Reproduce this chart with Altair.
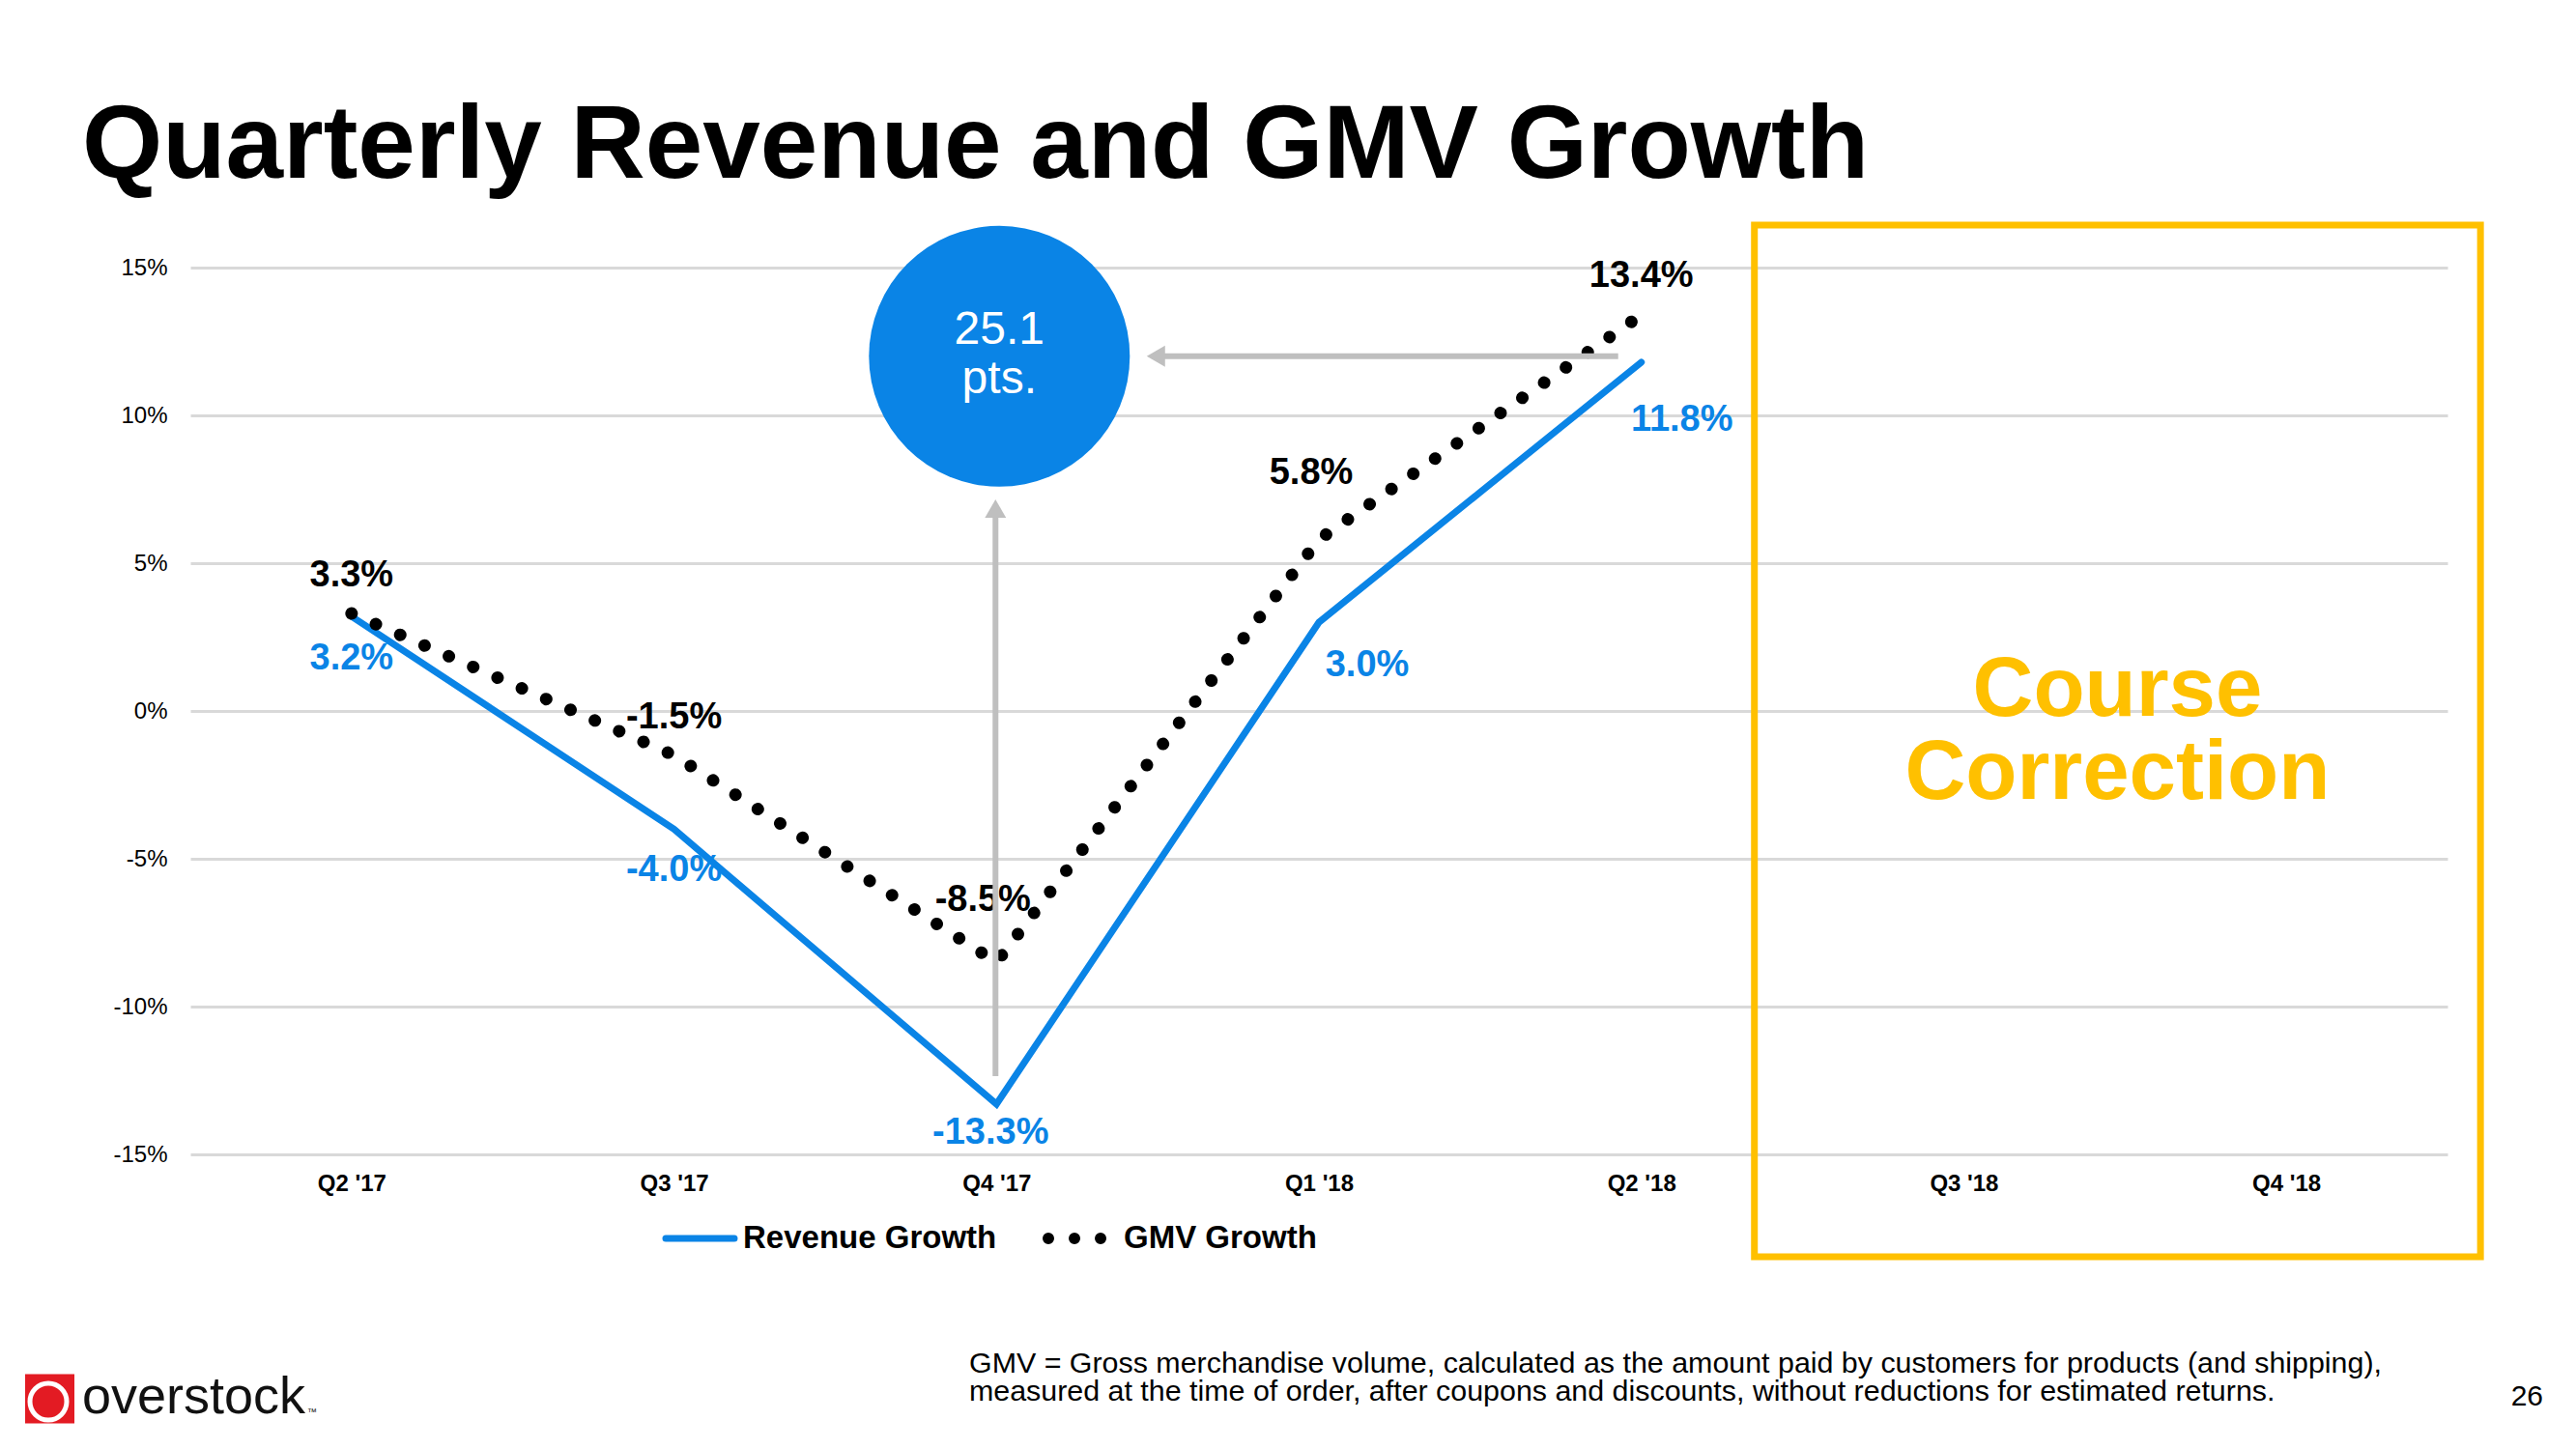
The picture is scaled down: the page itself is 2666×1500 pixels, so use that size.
import altair as alt
import pandas as pd

# ---------------- data ----------------
quarters = ["Q2 '17", "Q3 '17", "Q4 '17", "Q1 '18", "Q2 '18", "Q3 '18", "Q4 '18"]
reported_quarters = quarters[:5]
revenue_growth = [3.2, -4.0, -13.3, 3.0, 11.8]
gmv_growth = [3.3, -1.5, -8.5, 5.8, 13.4]
y_ticks = [-15, -10, -5, 0, 5, 10, 15]

title_text = "Quarterly Revenue and GMV Growth"
series_names = ["Revenue Growth", "GMV Growth"]
box_text = ["Course", "Correction"]
footnote_lines = [
    "GMV = Gross merchandise volume, calculated as the amount paid by customers for products (and shipping),",
    "measured at the time of order, after coupons and discounts, without reductions for estimated returns.",
]
page_number = "26"
logo_text = "overstock"

gap_pts = round(revenue_growth[4] - revenue_growth[2], 1)  # 25.1 pts swing

rev_df = pd.DataFrame({"quarter": reported_quarters, "value": revenue_growth})
gmv_df = pd.DataFrame({"quarter": reported_quarters, "value": gmv_growth})
one = pd.DataFrame({"k": [0]})

# ---------------- styles ----------------
FONT = "Liberation Sans"
BLUE = "#0A84E6"
BLACK = "#000000"
GRAY = "#BFBFBF"
GOLD = "#FFC000"
W, H = 2336, 918

xscale = alt.Scale(type="point", domain=quarters, padding=0.5)
yscale = alt.Scale(domain=[-15, 15], nice=False, zero=False)

x_axis = alt.Axis(domain=False, ticks=False, labelPadding=18, labelFontSize=24,
                  labelFontWeight="bold", labelColor=BLACK, labelAngle=0,
                  grid=False, title=None, labelFont=FONT)
y_axis = alt.Axis(values=y_ticks, labelExpr="datum.value + '%'", grid=True,
                  gridColor="#D9D9D9", gridWidth=3, domain=False, ticks=False,
                  labelPadding=24, labelFontSize=24, labelColor=BLACK,
                  title=None, labelFont=FONT)

X = alt.X("quarter:N", scale=xscale, axis=x_axis, title=None)
Y = alt.Y("value:Q", scale=yscale, axis=y_axis, title=None)


def xd(q):
    return alt.XDatum(q, type="nominal", scale=xscale, axis=x_axis, title=None)


def yd(v):
    return alt.YDatum(v, type="quantitative", scale=yscale, axis=y_axis, title=None)


layers = []

# yellow "course correction" frame
layers.append(
    alt.Chart(one).mark_rect(filled=False, color=GOLD, strokeWidth=7,
                             xOffset=117, x2Offset=201)
    .encode(x=xd("Q2 '18"), x2=alt.X2Datum("Q4 '18"),
            y=alt.value(-44), y2=alt.value(1024))
)

# revenue line
layers.append(
    alt.Chart(rev_df).mark_line(color=BLUE, strokeWidth=7, strokeCap="round")
    .encode(x=X, y=Y)
)
# GMV dotted line
layers.append(
    alt.Chart(gmv_df).mark_line(color=BLACK, strokeWidth=13, strokeCap="round",
                                strokeDash=[0.01, 27.5])
    .encode(x=X, y=Y)
)

# data labels (offsets in px per quarter)
gmv_offsets = {"Q2 '17": (0, -39), "Q3 '17": (0, -39), "Q4 '17": (-14, -64),
               "Q1 '18": (-8, -69), "Q2 '18": (0, -40)}
rev_offsets = {"Q2 '17": (0, 44), "Q3 '17": (0, 43), "Q4 '17": (-6, 30),
               "Q1 '18": (50, 45), "Q2 '18": (42, 60)}

for df, offs, col in [(gmv_df, gmv_offsets, BLACK), (rev_df, rev_offsets, BLUE)]:
    for q, (dx, dy) in offs.items():
        layers.append(
            alt.Chart(df).transform_filter(alt.datum.quarter == q)
            .transform_calculate(
                label="replace(format(datum.value, '.1f'), '\u2212', '-') + '%'")
            .mark_text(dx=dx, dy=dy, fontSize=38, fontWeight="bold", color=col,
                       font=FONT, align="center", baseline="middle")
            .encode(x=X, y=Y, text="label:N")
        )

# arrows
layers.append(
    alt.Chart(one).mark_rule(color=GRAY, strokeWidth=6, xOffset=165, x2Offset=-24)
    .encode(x=xd("Q4 '17"), x2=alt.X2Datum("Q2 '18"), y=yd(12.0))
)
layers.append(
    alt.Chart(one).mark_point(shape="triangle-left", filled=True, color=GRAY,
                              opacity=1, size=480, xOffset=165)
    .encode(x=xd("Q4 '17"), y=yd(12.0))
)
layers.append(
    alt.Chart(one).mark_rule(color=GRAY, strokeWidth=6, xOffset=-1)
    .encode(x=xd("Q4 '17"), y=yd(-12.35), y2=alt.Y2Datum(6.85))
)
layers.append(
    alt.Chart(one).mark_point(shape="triangle-up", filled=True, color=GRAY,
                              opacity=1, size=480, xOffset=-1)
    .encode(x=xd("Q4 '17"), y=yd(6.85))
)

# blue bubble (circle size = diameter^2)
layers.append(
    alt.Chart(one).mark_circle(size=72900, color=BLUE, opacity=1, xOffset=3)
    .encode(x=xd("Q4 '17"), y=yd(12.0))
)
layers.append(
    alt.Chart(one).mark_text(text=[f"{gap_pts:.1f}", "pts."], fontSize=48,
                             color="white", font=FONT, lineHeight=51,
                             align="center", baseline="middle", xOffset=3, dy=-27)
    .encode(x=xd("Q4 '17"), y=yd(12.0))
)

# course correction label
layers.append(
    alt.Chart(one).mark_text(text=box_text, fontSize=87, fontWeight="bold",
                             color=GOLD, font=FONT, lineHeight=86,
                             align="center", baseline="middle", xOffset=159)
    .encode(x=xd("Q3 '18"), y=alt.value(438))
)

# legend (manual)
layers.append(
    alt.Chart(one).mark_rule(color=BLUE, strokeWidth=7, strokeCap="round")
    .encode(x=alt.value(492), x2=alt.value(563), y=alt.value(1005))
)
layers.append(
    alt.Chart(one).mark_text(text=series_names[0], fontSize=33, fontWeight="bold",
                             color=BLACK, font=FONT, align="left", baseline="middle")
    .encode(x=alt.value(572), y=alt.value(1005))
)
layers.append(
    alt.Chart(one).mark_rule(color=BLACK, strokeWidth=12, strokeCap="round",
                             strokeDash=[0.01, 27])
    .encode(x=alt.value(888), x2=alt.value(942.5), y=alt.value(1005))
)
layers.append(
    alt.Chart(one).mark_text(text=series_names[1], fontSize=33, fontWeight="bold",
                             color=BLACK, font=FONT, align="left", baseline="middle")
    .encode(x=alt.value(966), y=alt.value(1005))
)

# title
layers.append(
    alt.Chart(one).mark_text(text=title_text, fontSize=107, fontWeight="bold",
                             color=BLACK, font=FONT, align="left", baseline="alphabetic")
    .encode(x=alt.value(-112), y=alt.value(-93))
)

# footnote & page number
layers.append(
    alt.Chart(one).mark_text(text=footnote_lines, fontSize=30.4, color=BLACK, font=FONT,
                             align="left", baseline="alphabetic", lineHeight=29)
    .encode(x=alt.value(806), y=alt.value(1144))
)
layers.append(
    alt.Chart(one).mark_text(text=page_number, fontSize=30, color=BLACK, font=FONT,
                             align="right", baseline="alphabetic")
    .encode(x=alt.value(2435), y=alt.value(1178))
)

# logo
layers.append(
    alt.Chart(one).mark_square(size=2601, color="#E31B23", opacity=1)
    .encode(x=alt.value(-145.5), y=alt.value(1171))
)
layers.append(
    alt.Chart(one).mark_point(shape="circle", filled=False, color="white",
                              strokeWidth=5, size=1444, opacity=1)
    .encode(x=alt.value(-147), y=alt.value(1174))
)
layers.append(
    alt.Chart(one).mark_text(text=logo_text, fontSize=54, color="#111111", font=FONT,
                             align="left", baseline="alphabetic")
    .encode(x=alt.value(-112), y=alt.value(1186))
)
layers.append(
    alt.Chart(one).mark_text(text="™", fontSize=10, color="#111111", font=FONT,
                             align="left", baseline="alphabetic")
    .encode(x=alt.value(121), y=alt.value(1188))
)

chart = (
    alt.layer(*layers)
    .properties(width=W, height=H,
                autosize=alt.AutoSizeParams(type="none"),
                padding={"left": 189, "top": 269, "right": 125, "bottom": 290},
                background="white")
    .configure(font=FONT)
    .configure_view(strokeWidth=0, stroke="transparent")
)

chart.save("out.html", embed_options={"renderer": "svg", "actions": False})
